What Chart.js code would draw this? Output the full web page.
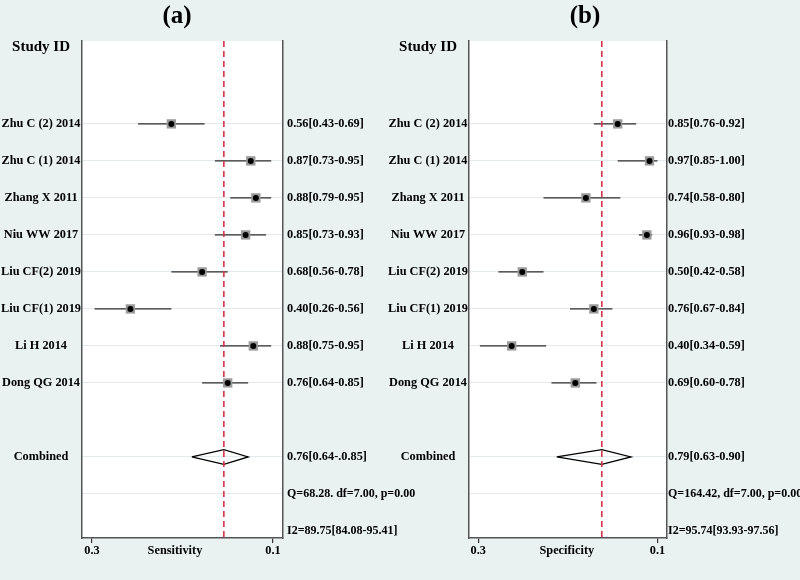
<!DOCTYPE html>
<html>
<head>
<meta charset="utf-8">
<script src="https://cdn.jsdelivr.net/npm/chart.js@4.4.1/dist/chart.umd.min.js"></script>
<style>
  body { margin: 0; background: #e9f1f1; }
  #wrap { position: relative; width: 800px; height: 580px; }
  #wrap canvas { position: absolute; left: 0; top: 0; }
</style>
</head>
<body>
<div id="wrap">
  <canvas id="chartA" width="800" height="580"></canvas>
  <canvas id="chartB" width="800" height="580"></canvas>
</div>
<script>
const studies = ['Zhu C (2) 2014', 'Zhu C (1) 2014', 'Zhang X 2011', 'Niu WW 2017',
    'Liu CF(2) 2019', 'Liu CF(1) 2019', 'Li H 2014', 'Dong QG 2014'];
const studyRows = [0, 1, 2, 3, 4, 5, 6, 7];
const headerRow = -2.07;
const combinedRow = 9;
const qRow = 10;
const i2Row = 11;

// (a) sensitivity - point and CI as drawn
const sensEst = [0.56, 0.87, 0.89, 0.85, 0.68, 0.40, 0.88, 0.78];
const sensLow = [0.43, 0.73, 0.79, 0.73, 0.56, 0.26, 0.75, 0.68];
const sensHigh = [0.69, 0.95, 0.95, 0.93, 0.78, 0.56, 0.95, 0.86];
const sensText = ['0.56[0.43-0.69]', '0.87[0.73-0.95]', '0.88[0.79-0.95]', '0.85[0.73-0.93]',
    '0.68[0.56-0.78]', '0.40[0.26-0.56]', '0.88[0.75-0.95]', '0.76[0.64-0.85]'];
const sensCombined = [0.64, 0.765, 0.86]; // low, estimate, high
const sensStats = ['0.76[0.64-.0.85]', 'Q=68.28. df=7.00, p=0.00', 'I2=89.75[84.08-95.41]'];
const sensTicks = [0.25, 0.574, 0.957];
const sensTickLabels = ['0.3', 'Sensitivity', '0.1'];

// (b) specificity
const specEst = [0.85, 0.97, 0.73, 0.96, 0.49, 0.76, 0.45, 0.69];
const specLow = [0.76, 0.85, 0.57, 0.93, 0.40, 0.67, 0.33, 0.60];
const specHigh = [0.92, 1.00, 0.86, 0.98, 0.57, 0.83, 0.58, 0.77];
const specText = ['0.85[0.76-0.92]', '0.97[0.85-1.00]', '0.74[0.58-0.80]', '0.96[0.93-0.98]',
    '0.50[0.42-0.58]', '0.76[0.67-0.84]', '0.40[0.34-0.59]', '0.69[0.60-0.78]'];
const specCombined = [0.62, 0.79, 0.90];
const specStats = ['0.79[0.63-0.90]', 'Q=164.42, df=7.00, p=0.00', 'I2=95.74[93.93-97.56]'];
const specTicks = [0.324, 0.658, 1.0];
const specTickLabels = ['0.3', 'Specificity', '0.1'];

const yTop = -2.24;
const yBottom = 11.19;
const serif = "'Liberation Serif', 'Times New Roman', serif";

Chart.defaults.color = '#000';

const plotBg = {
    id: 'plotBg',
    beforeDraw(chart) {
        const {ctx, chartArea: a} = chart;
        ctx.save();
        ctx.fillStyle = '#fff';
        ctx.fillRect(a.left, a.top, a.right - a.left, a.bottom - a.top);
        ctx.restore();
    }
};

function makePanel(id, p) {
    const pts = p.est.map((v, i) => ({x: v, y: studyRows[i]}));
    const [cLow, cEst, cHigh] = p.combined;
    const ds = [];
    ds.push({data: pts, showLine: false, pointStyle: 'circle', pointRadius: 3,
        pointBackgroundColor: '#000', pointBorderWidth: 0});
    ds.push({data: pts, showLine: false, pointStyle: 'rect', pointRadius: 6.6,
        pointBackgroundColor: '#9a9a9a', pointBorderWidth: 0});
    ds.push({data: [{x: cEst, y: yTop}, {x: cEst, y: yBottom}], showLine: true,
        borderColor: '#d5334a', borderWidth: 1.6, borderDash: [6, 4], pointRadius: 0});
    ds.push({data: [{x: cLow, y: combinedRow}, {x: cEst, y: combinedRow - 0.2},
            {x: cHigh, y: combinedRow}, {x: cEst, y: combinedRow + 0.2}, {x: cLow, y: combinedRow}],
        showLine: true, borderColor: '#000', borderWidth: 1.3, pointRadius: 0, fill: false});
    p.low.forEach((lo, i) => {
        ds.push({data: [{x: lo, y: studyRows[i]}, {x: p.high[i], y: studyRows[i]}], showLine: true,
            borderColor: '#2b2b2b', borderWidth: 1.3, pointRadius: 0});
    });

    const leftRows = [headerRow, ...studyRows, combinedRow, qRow];
    const leftLabels = ['Study ID', ...studies, 'Combined', ''];
    const rightRows = [...studyRows, combinedRow, qRow, i2Row];
    const rightLabels = [...p.text, ...p.stats];
    const labelFont = {family: serif, size: 12.3, weight: 'bold'};
    const statFont = {family: serif, size: 12, weight: 'bold'};

    new Chart(document.getElementById(id), {
        type: 'scatter',
        data: {datasets: ds},
        plugins: [plotBg],
        options: {
            responsive: false,
            animation: false,
            devicePixelRatio: 1,
            layout: {padding: {left: p.padLeft, right: p.padRight, top: 0, bottom: 0}},
            plugins: {
                legend: {display: false},
                tooltip: {enabled: false},
                title: {
                    display: true,
                    text: p.title,
                    color: '#000',
                    font: {family: serif, size: 25, weight: 'bold'},
                    padding: {top: 2, bottom: 9}
                }
            },
            scales: {
                x: {
                    type: 'linear',
                    position: 'bottom',
                    min: p.xMin,
                    max: p.xMax,
                    afterBuildTicks: s => { s.ticks = p.ticks.map(v => ({value: v})); },
                    afterFit: s => { s.height = 42; },
                    ticks: {
                        autoSkip: false,
                        maxRotation: 0,
                        padding: 0,
                        font: labelFont,
                        callback: (v, i) => p.tickLabels[i]
                    },
                    grid: {
                        drawOnChartArea: false,
                        drawTicks: true,
                        tickLength: 5,
                        lineWidth: 1.2,
                        color: c => c.index === 1 ? 'rgba(0,0,0,0)' : '#333'
                    },
                    border: {color: '#555', width: 1.5}
                },
                y: {
                    type: 'linear',
                    position: 'left',
                    reverse: true,
                    min: yTop,
                    max: yBottom,
                    afterBuildTicks: s => { s.ticks = leftRows.map(v => ({value: v})); },
                    afterFit: s => { s.width = p.leftW; },
                    ticks: {
                        autoSkip: false,
                        crossAlign: 'center',
                        padding: 1,
                        font: c => c.index === 0 ? {family: serif, size: 15, weight: 'bold'} : labelFont,
                        callback: (v, i) => leftLabels[i]
                    },
                    grid: {
                        drawTicks: false,
                        lineWidth: 1,
                        color: c => c.index === 0 ? 'rgba(0,0,0,0)' : '#e2eaed'
                    },
                    border: {color: '#555', width: 1.5}
                },
                y2: {
                    type: 'linear',
                    position: 'right',
                    reverse: true,
                    min: yTop,
                    max: yBottom,
                    afterBuildTicks: s => { s.ticks = rightRows.map(v => ({value: v})); },
                    afterFit: s => { s.width = p.rightW; },
                    ticks: {
                        autoSkip: false,
                        padding: p.rightPad,
                        font: c => c.index >= 9 ? statFont : labelFont,
                        callback: (v, i) => rightLabels[i]
                    },
                    grid: {drawOnChartArea: false, drawTicks: false},
                    border: {color: '#555', width: 1.5}
                }
            }
        }
    });
}

makePanel('chartA', {
    title: '(a)', est: sensEst, low: sensLow, high: sensHigh, text: sensText,
    combined: sensCombined, stats: sensStats, ticks: sensTicks, tickLabels: sensTickLabels,
    xMin: 0.211, xMax: 0.996, padLeft: -64, padRight: 382, leftW: 146, rightW: 135, rightPad: 4
});

makePanel('chartB', {
    title: '(b)', est: specEst, low: specLow, high: specHigh, text: specText,
    combined: specCombined, stats: specStats, ticks: specTicks, tickLabels: specTickLabels,
    xMin: 0.289, xMax: 1.036, padLeft: 370, padRight: 0, leftW: 99, rightW: 133, rightPad: 1
});
</script>
</body>
</html>
